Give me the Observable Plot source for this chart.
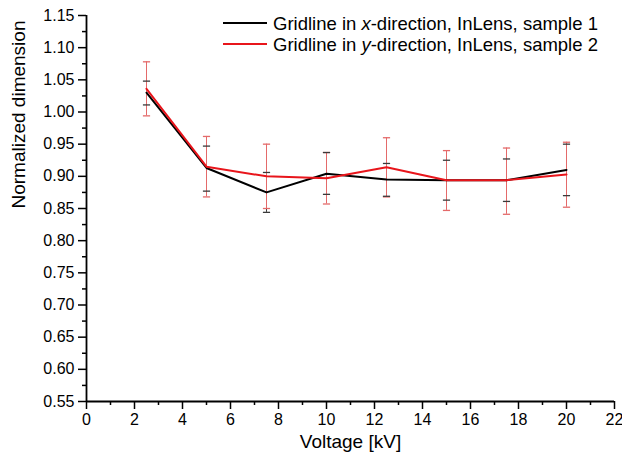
<!DOCTYPE html>
<html>
<head>
<meta charset="utf-8">
<script src="https://cdn.jsdelivr.net/npm/d3@7"></script>
<script src="https://cdn.jsdelivr.net/npm/@observablehq/plot@0.6"></script>
<style>
  html, body { margin: 0; padding: 0; background: #fff; }
  #chart { width: 622px; height: 463px; }
</style>
</head>
<body>
<div id="chart"></div>
<script>
// ---- data ----
const voltage = [2.5, 5, 7.5, 10, 12.5, 15, 17.5, 20];

const xDirMean = [1.030, 0.913, 0.875, 0.904, 0.895, 0.894, 0.894, 0.910];
const xDirHigh = [1.048, 0.947, 0.906, 0.937, 0.920, 0.925, 0.927, 0.950];
const xDirLow  = [1.011, 0.877, 0.844, 0.872, 0.869, 0.863, 0.861, 0.870];

const yDirMean = [1.036, 0.915, 0.900, 0.897, 0.914, 0.894, 0.894, 0.903];
const yDirHigh = [1.078, 0.962, 0.950, 0.937, 0.960, 0.940, 0.944, 0.953];
const yDirLow  = [0.994, 0.868, 0.850, 0.857, 0.868, 0.847, 0.841, 0.852];

const seriesColors = ["#000000", "#e8151b"];
const barColors = ["#3a3a3a", "#e46a6a"];

const xMajorTicks = [0, 2, 4, 6, 8, 10, 12, 14, 16, 18, 20, 22];
const xMinorTicks = [1, 3, 5, 7, 9, 11, 13, 15, 17, 19, 21];
const yMajorTicks = [0.55, 0.60, 0.65, 0.70, 0.75, 0.80, 0.85, 0.90, 0.95, 1.00, 1.05, 1.10, 1.15];
const yMinorTicks = [0.575, 0.625, 0.675, 0.725, 0.775, 0.825, 0.875, 0.925, 0.975, 1.025, 1.075, 1.125];

const xTitle = "Voltage [kV]";
const yTitle = "Normalized dimension";

// ---- build tables ----
const xData = voltage.map((v, i) => ({x: v, y: xDirMean[i], lo: xDirLow[i], hi: xDirHigh[i]}));
const yData = voltage.map((v, i) => ({x: v, y: yDirMean[i], lo: yDirLow[i], hi: yDirHigh[i]}));

const cap = 0.15;
function errMarks(data, color) {
  return [
    Plot.ruleX(data, {x: "x", y1: "lo", y2: "hi", stroke: color, strokeWidth: 1})
  ];
}
function capMarks(data, color) {
  return [
    Plot.link(data, {x1: d => d.x - cap, x2: d => d.x + cap, y1: "hi", y2: "hi", stroke: color, strokeWidth: 1.3}),
    Plot.link(data, {x1: d => d.x - cap, x2: d => d.x + cap, y1: "lo", y2: "lo", stroke: color, strokeWidth: 1.3})
  ];
}

const plot = Plot.plot({
  width: 622,
  height: 463,
  marginLeft: 86,
  marginRight: 8,
  marginTop: 15,
  marginBottom: 62,
  style: {fontFamily: "'Liberation Sans', Arial, sans-serif", fontSize: "16px", color: "#000", background: "#fff"},
  x: {domain: [0, 22]},
  y: {domain: [0.55, 1.15]},
  marks: [
    ...errMarks(xData, barColors[0]),
    ...errMarks(yData, barColors[1]),
    ...capMarks(yData, barColors[1]),
    ...capMarks(xData, barColors[0]),
    Plot.line(xData, {x: "x", y: "y", stroke: seriesColors[0], strokeWidth: 2}),
    Plot.line(yData, {x: "x", y: "y", stroke: seriesColors[1], strokeWidth: 2}),
    Plot.axisX({ticks: xMajorTicks, tickSize: 8, tickPadding: 4, tickFormat: d3.format("d"), label: null, strokeWidth: 1.5}),
    Plot.axisX({ticks: xMinorTicks, tickSize: 4, tickFormat: () => "", label: null, strokeWidth: 1.5}),
    Plot.axisY({ticks: yMajorTicks, tickSize: 8, tickPadding: 4, tickFormat: d3.format(".2f"), label: null, strokeWidth: 1.5}),
    Plot.axisY({ticks: yMinorTicks, tickSize: 4, tickFormat: () => "", label: null, strokeWidth: 1.5}),
    Plot.ruleX([0], {stroke: "#000", strokeWidth: 1.8}),
    Plot.ruleY([0.55], {stroke: "#000", strokeWidth: 1.8}),
    Plot.text([xTitle], {frameAnchor: "bottom", lineAnchor: "middle", dy: 40, fontSize: 19}),
    Plot.text([yTitle], {frameAnchor: "left", rotate: -90, dx: -68, fontSize: 19})
  ]
});

document.getElementById("chart").appendChild(plot);

// ---- legend (inside the plot, top right) ----
const svg = d3.select(plot);
const legend = svg.append("g")
  .attr("font-family", "'Liberation Sans', Arial, sans-serif")
  .attr("font-size", 18.5)
  .attr("text-anchor", "start");
const legendParts = [
  ["Gridline in ", "x", "-direction, InLens, sample 1"],
  ["Gridline in ", "y", "-direction, InLens, sample 2"]
];
legendParts.forEach((parts, i) => {
  const cy = 23 + i * 21;
  legend.append("line")
    .attr("x1", 223).attr("x2", 267).attr("y1", cy).attr("y2", cy)
    .attr("stroke", seriesColors[i]).attr("stroke-width", 2);
  const t = legend.append("text").attr("x", 273).attr("y", cy + 6.5).attr("fill", "#000");
  t.append("tspan").text(parts[0]);
  t.append("tspan").attr("font-style", "italic").text(parts[1]);
  t.append("tspan").text(parts[2]);
});
</script>
</body>
</html>
